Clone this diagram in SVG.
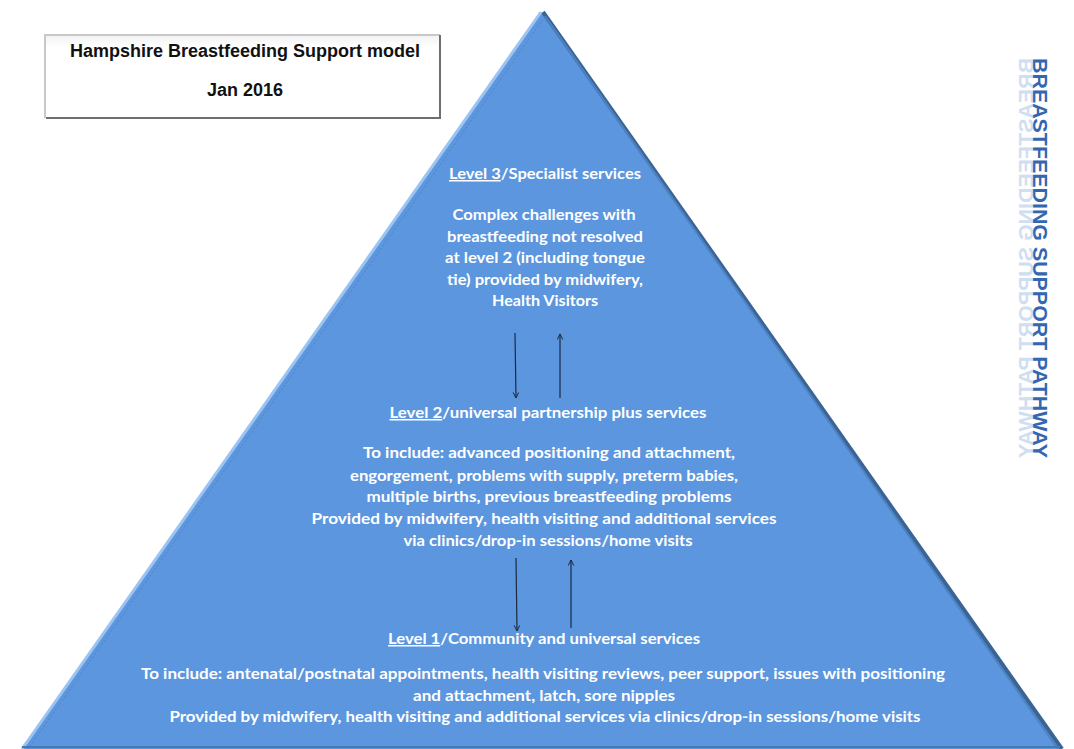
<svg xmlns="http://www.w3.org/2000/svg" width="1074" height="749" viewBox="0 0 1074 749">
<defs>
<style>
.body{font-family:Lato,"Open Sans","Liberation Sans",sans-serif;font-weight:bold;font-size:15px;fill:#ffffff;text-anchor:middle}
.u{text-decoration:underline}
.title{font-family:"Liberation Sans",Arial,sans-serif;font-weight:bold;font-size:18px;fill:#111111;text-anchor:middle}
.arr{stroke:#1c2b42;stroke-width:1.2;fill:none;marker-end:url(#ah)}
.vt{font-family:"Liberation Sans",Arial,sans-serif;font-weight:bold;font-size:21px}
</style>
<marker id="ah" viewBox="0 0 10 10" refX="9" refY="5" markerWidth="7" markerHeight="7" orient="auto" markerUnits="userSpaceOnUse">
<path d="M1,1 L9,5 L1,9" fill="none" stroke="#1c2b42" stroke-width="1.4"/>
</marker>
<linearGradient id="gh" x1="0" y1="0" x2="0" y2="1">
<stop offset="0" stop-color="#9fbbe3" stop-opacity="0.8"/>
<stop offset="1" stop-color="#ffffff" stop-opacity="0"/>
</linearGradient>
<linearGradient id="bx" x1="0" y1="0" x2="0" y2="1">
<stop offset="0" stop-color="#f2f2f2"/>
<stop offset="0.15" stop-color="#ffffff"/>
<stop offset="1" stop-color="#ffffff"/>
</linearGradient>
</defs>
<rect width="1074" height="749" fill="#ffffff"/>

<g id="pyramid">
<polygon points="542,12 1061,749 22,749" fill="#5b96de"/>
<line x1="543" y1="12" x2="1062" y2="749" stroke="#3a6496" stroke-width="4"/>
<line x1="545" y1="16" x2="1058" y2="749" stroke="#4f82c0" stroke-width="2"/>
<line x1="541" y1="12" x2="22" y2="749" stroke="#9cc4f2" stroke-width="3"/>
<line x1="543" y1="19" x2="28" y2="749" stroke="#4f7fb9" stroke-width="0.8" stroke-dasharray="2,2"/>
<line x1="22" y1="747" x2="1060" y2="747" stroke="#4a78b2" stroke-width="2"/>
</g>

<g id="title-box">
<rect x="45" y="35" width="395" height="83" fill="url(#bx)"/>
<path d="M45,118 L45,35 L440,35" fill="none" stroke="#c8c8c8" stroke-width="2"/>
<path d="M46,118 L440,118 L440,35" fill="none" stroke="#6e6e6e" stroke-width="2"/>
<text class="title" x="245" y="57">Hampshire Breastfeeding Support model</text>
<text class="title" x="245" y="96">Jan 2016</text>
</g>

<g id="vertical-label">
<g transform="translate(1033,58) rotate(90)">
<g transform="scale(1,-1)">
<text class="vt" x="0" y="0" textLength="400" lengthAdjust="spacingAndGlyphs" fill="#aac4e8" opacity="0.55">BREASTFEEDING SUPPORT PATHWAY</text>
</g>
<text class="vt" x="0" y="0" textLength="400" lengthAdjust="spacingAndGlyphs" fill="#3566b0">BREASTFEEDING SUPPORT PATHWAY</text>
</g>
</g>

<g id="level3">
<text class="body" x="545" y="179" textLength="192" lengthAdjust="spacingAndGlyphs"><tspan class="u">Level 3</tspan>/Specialist services</text>
<text class="body" x="544" y="220" textLength="183" lengthAdjust="spacingAndGlyphs">Complex challenges with</text>
<text class="body" x="545" y="241.5" textLength="196" lengthAdjust="spacingAndGlyphs">breastfeeding not resolved</text>
<text class="body" x="545" y="263" textLength="200" lengthAdjust="spacingAndGlyphs">at level 2 (including tongue</text>
<text class="body" x="545" y="284.5" textLength="196" lengthAdjust="spacingAndGlyphs">tie) provided by midwifery,</text>
<text class="body" x="545" y="306" textLength="106" lengthAdjust="spacingAndGlyphs">Health Visitors</text>
</g>

<g id="level2">
<text class="body" x="548" y="418" textLength="317" lengthAdjust="spacingAndGlyphs"><tspan class="u">Level 2</tspan>/universal partnership plus services</text>
<text class="body" x="549" y="458" textLength="372" lengthAdjust="spacingAndGlyphs">To include: advanced positioning and attachment,</text>
<text class="body" x="544" y="481" textLength="388" lengthAdjust="spacingAndGlyphs">engorgement, problems with supply, preterm babies,</text>
<text class="body" x="549" y="502" textLength="365" lengthAdjust="spacingAndGlyphs">multiple births, previous breastfeeding problems</text>
<text class="body" x="544" y="524" textLength="465" lengthAdjust="spacingAndGlyphs">Provided by midwifery, health visiting and additional services</text>
<text class="body" x="548" y="546" textLength="289" lengthAdjust="spacingAndGlyphs">via clinics/drop-in sessions/home visits</text>
</g>

<g id="level1">
<text class="body" x="544" y="644" textLength="312" lengthAdjust="spacingAndGlyphs"><tspan class="u">Level 1</tspan>/Community and universal services</text>
<text class="body" x="543" y="679" textLength="804" lengthAdjust="spacingAndGlyphs">To include: antenatal/postnatal appointments, health visiting reviews, peer support, issues with positioning</text>
<text class="body" x="544" y="701" textLength="262" lengthAdjust="spacingAndGlyphs">and attachment, latch, sore nipples</text>
<text class="body" x="545" y="722" textLength="751" lengthAdjust="spacingAndGlyphs">Provided by midwifery, health visiting and additional services via clinics/drop-in sessions/home visits</text>
</g>

<g id="connectors">
<line class="arr" x1="515" y1="333" x2="516" y2="398"/>
<line class="arr" x1="560" y1="398" x2="560" y2="334"/>
<line class="arr" x1="516" y1="558" x2="517" y2="631"/>
<line class="arr" x1="571" y1="628" x2="571" y2="560"/>
</g>
</svg>
